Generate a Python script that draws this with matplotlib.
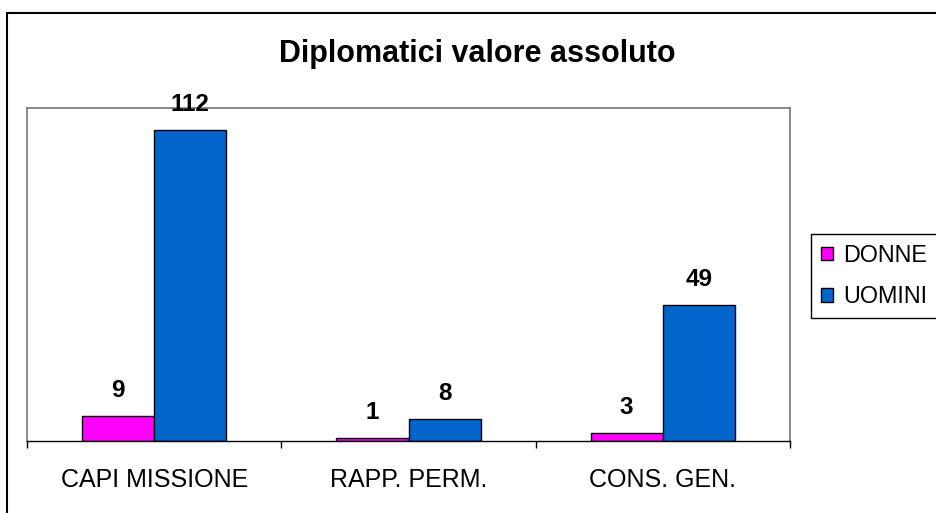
import matplotlib
matplotlib.use("Agg")
import matplotlib.pyplot as plt
from matplotlib.patches import Patch, Rectangle
import numpy as np

categories = ["CAPI MISSIONE", "RAPP. PERM.", "CONS. GEN."]
donne = [9, 1, 3]
uomini = [112, 8, 49]
series_names = ["DONNE", "UOMINI"]
title = "Diplomatici valore assoluto"

W, H = 936, 513
plt.rcParams['font.family'] = ['Liberation Sans', 'DejaVu Sans']

fig = plt.figure(figsize=(W / 100, H / 100), dpi=100)

def fx(px):
    return px / W

def fy(py):
    return 1 - py / H

# outer chart border (cut off right/bottom)
fig.add_artist(Rectangle((fx(7.5), fy(700)), fx(1200), (700 - 13) / H,
                         transform=fig.transFigure, fill=False,
                         edgecolor='black', linewidth=1.5))

ax = fig.add_axes([fx(27), fy(441), fx(790 - 27), (441 - 108) / H])
x = np.arange(len(categories))
w = 72.5 / 255
c_d, c_u = '#FF00FF', '#0066CC'
b1 = ax.bar(x - w / 2, donne, w, color=c_d, edgecolor='black', linewidth=1.0)
b2 = ax.bar(x + w / 2, uomini, w, color=c_u, edgecolor='black', linewidth=1.0)

ax.set_xlim(-0.5, len(categories) - 0.5)
ax.set_ylim(0, 120)
ax.set_yticks([])
ax.set_xticks(x)
ax.set_xticklabels(categories, fontsize=18)
ax.tick_params(axis='x', which='major', length=0, pad=19.5)
ax.set_xticks(np.arange(len(categories) + 1) - 0.5, minor=True)
ax.tick_params(axis='x', which='minor', length=5, width=1, direction='out', color='black')
for s in ['top', 'left', 'right']:
    ax.spines[s].set_color('#808080')
    ax.spines[s].set_linewidth(1.3)
ax.spines['bottom'].set_color('black')
ax.spines['bottom'].set_linewidth(1.0)

for bars, vals in ((b1, donne), (b2, uomini)):
    for r, v in zip(bars, vals):
        ax.annotate(str(v), (r.get_x() + r.get_width() / 2, v),
                    xytext=(0, 13.7), textcoords='offset points',
                    ha='center', va='baseline', fontsize=17.5, fontweight='bold',
                    annotation_clip=False)

fig.text(fx(477), fy(62), title, ha='center', va='baseline',
         fontsize=22, fontweight='bold')

handles = [Patch(facecolor=c_d, edgecolor='black', linewidth=1.0),
           Patch(facecolor=c_u, edgecolor='black', linewidth=1.0)]
fs = 16.8
fspx = fs * 100 / 72
leg = fig.legend(handles, series_names, loc='upper left',
                 bbox_to_anchor=(fx(811), fy(234)), bbox_transform=fig.transFigure,
                 fontsize=fs, frameon=True, fancybox=False, shadow=False,
                 framealpha=1, edgecolor='black',
                 handlelength=12 / fspx, handleheight=12 / fspx,
                 handletextpad=10 / fspx, borderpad=0.42, labelspacing=0.8,
                 borderaxespad=0)
leg.get_frame().set_linewidth(1.0)

fig.savefig('out.png', dpi=100)
